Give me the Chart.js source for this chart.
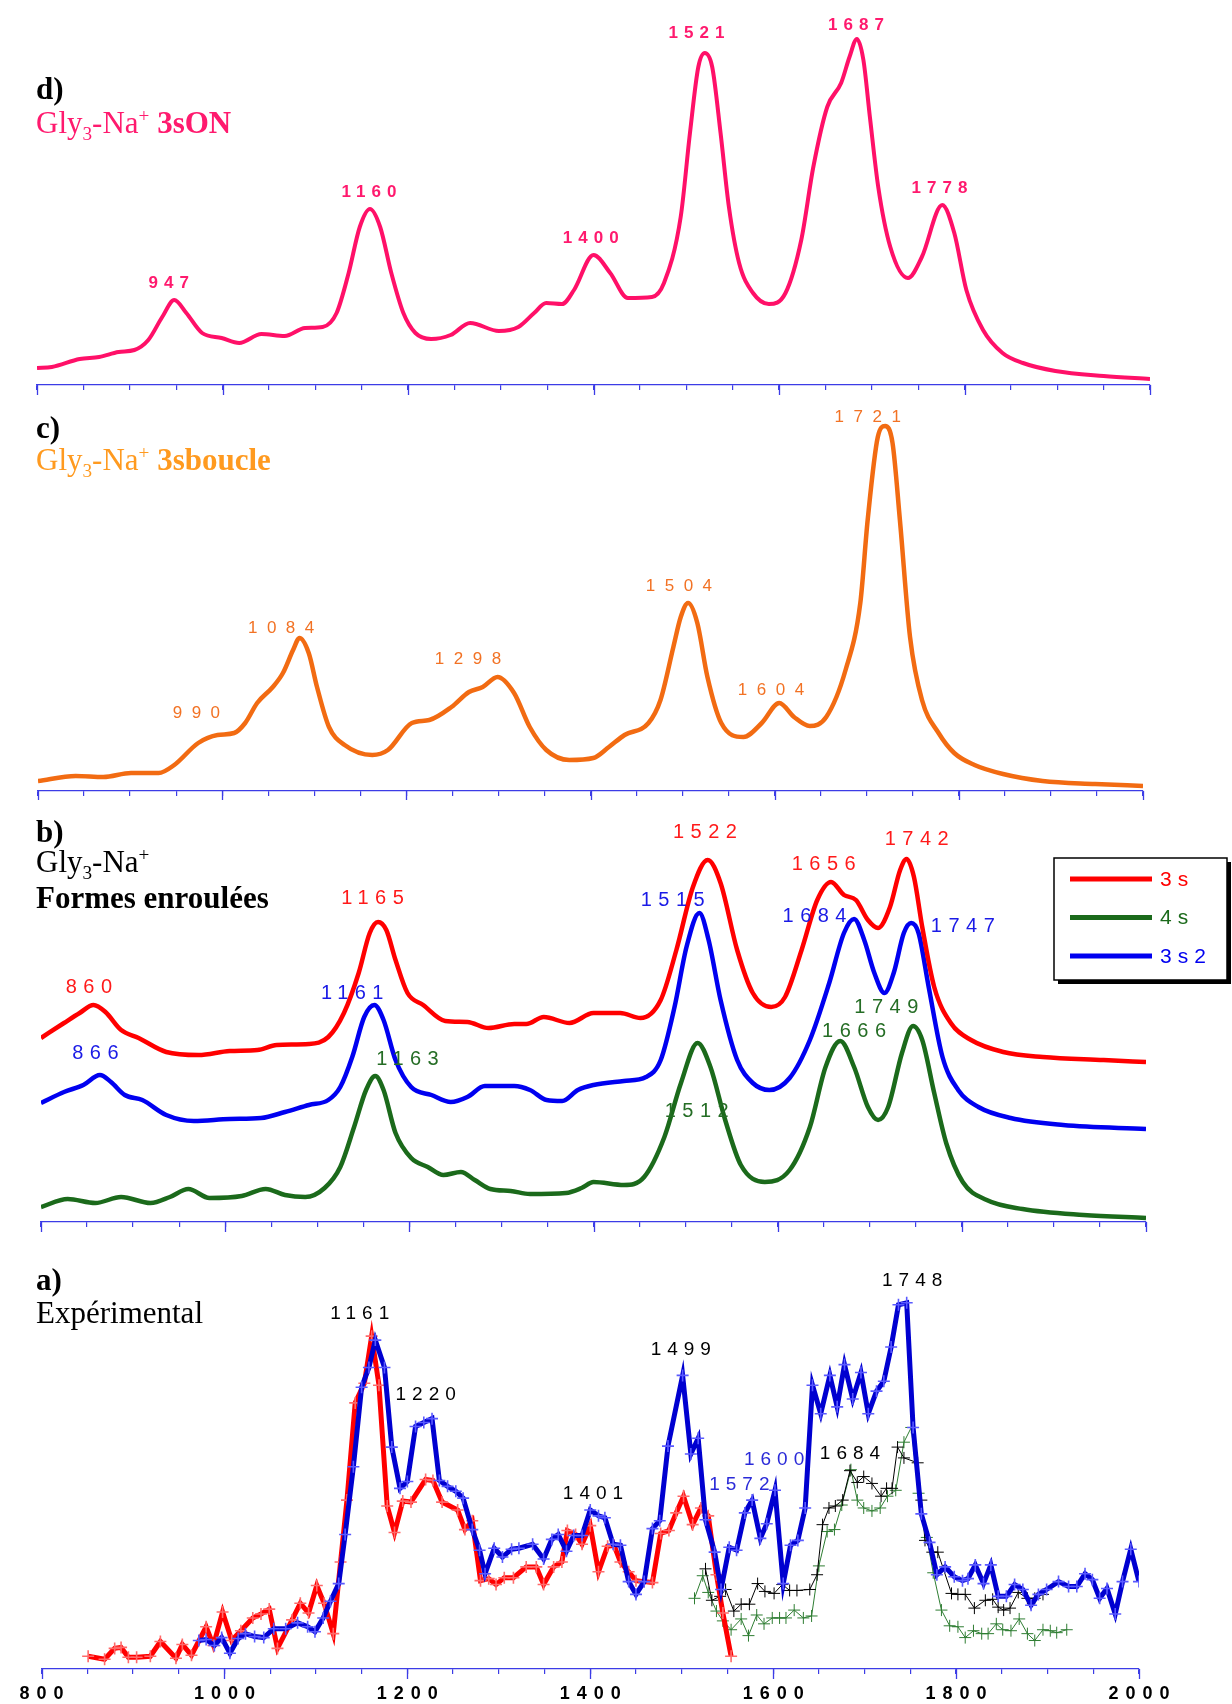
<!DOCTYPE html>
<html>
<head>
<meta charset="utf-8">
<script src="https://cdn.jsdelivr.net/npm/chart.js@4.4.0/dist/chart.umd.min.js"></script>
<style>
  body { margin: 0; background: #fff; }
  #page { position: relative; width: 1232px; height: 1704px; overflow: hidden;
          font-family: "Liberation Serif", "Times New Roman", serif; }
  canvas { position: absolute; left: 0; }
  .t { position: absolute; left: 36px; font-size: 31px; line-height: 1; white-space: nowrap; }
  .t sub, .t sup { font-size: 0.62em; line-height: 0; }
  .b { font-weight: bold; }
</style>
</head>
<body>
<div id="page">
  <canvas id="chart-d" width="1232" height="400" style="top:0px"></canvas>
  <canvas id="chart-c" width="1232" height="400" style="top:400px"></canvas>
  <canvas id="chart-b" width="1232" height="440" style="top:800px"></canvas>
  <canvas id="chart-a" width="1232" height="454" style="top:1250px"></canvas>

  <div class="t b" style="top:73px">d)</div>
  <div class="t" style="top:107px;color:#ff1a6e">Gly<sub>3</sub>-Na<sup>+</sup> <span class="b">3sON</span></div>
  <div class="t b" style="top:412px">c)</div>
  <div class="t" style="top:444px;color:#ff9a1f">Gly<sub>3</sub>-Na<sup>+</sup> <span class="b">3sboucle</span></div>
  <div class="t b" style="top:816px">b)</div>
  <div class="t" style="top:846px">Gly<sub>3</sub>-Na<sup>+</sup></div>
  <div class="t b" style="top:882px">Formes enroulées</div>
  <div class="t b" style="top:1264px">a)</div>
  <div class="t" style="top:1297px">Expérimental</div>
</div>

<script>
// Shared x range (wavenumbers, cm-1)
const xTickLabels = [800, 1000, 1200, 1400, 1600, 1800, 2000];

// d) Gly3-Na+ 3sON  [wavenumber, intensity a.u.]
const spectrum3sON = [[800,17],[816,18],[846,26],[867,28],[888,33],[905,35],[920,45],[935,68],[948,85],[961,72],[978,52],[999,47],[1018,42],[1042,51],[1067,49],[1089,57],[1108,58],[1123,72],[1136,112],[1148,158],[1159,176],[1170,158],[1182,112],[1195,72],[1208,52],[1225,46],[1246,50],[1267,62],[1298,54],[1319,58],[1336,72],[1349,82],[1366,81],[1379,95],[1400,130],[1418,112],[1437,87],[1463,88],[1476,102],[1494,168],[1504,252],[1513,318],[1520,332],[1528,318],[1537,252],[1546,178],[1557,122],[1572,92],[1589,81],[1607,92],[1624,145],[1637,218],[1652,278],[1667,302],[1676,328],[1684,346],[1691,325],[1698,268],[1707,198],[1720,138],[1739,107],[1754,128],[1776,180],[1789,152],[1802,95],[1820,55],[1841,32],[1863,22],[1898,14],[1950,9],[2000,6]];
const peaks3sON = [[942,97,"947"],[1158,188,"1160"],[1397,142,"1400"],[1511,347,"1521"],[1683,355,"1687"],[1773,192,"1778"]];

// c) Gly3-Na+ 3sboucle
const spectrum3sboucle = [[800,10],[841,15],[871,14],[901,18],[931,18],[948,26],[974,48],[995,56],[1013,58],[1025,68],[1038,88],[1055,104],[1066,118],[1077,141],[1084,153],[1094,138],[1103,104],[1116,64],[1133,46],[1163,36],[1180,41],[1206,68],[1225,71],[1249,84],[1268,99],[1283,104],[1299,114],[1317,98],[1334,64],[1352,41],[1377,31],[1403,33],[1420,44],[1437,56],[1463,68],[1476,91],[1490,144],[1498,174],[1506,188],[1516,168],[1527,114],[1542,68],[1566,54],[1586,68],[1605,88],[1621,74],[1638,65],[1656,74],[1677,121],[1693,188],[1701,271],[1712,354],[1720,365],[1728,348],[1736,271],[1747,154],[1760,91],[1778,58],[1795,38],[1817,26],[1848,17],[1891,10],[1948,7],[2000,5]];
const peaks3sboucle = [[972,73,"990"],[1064,158,"1084"],[1267,127,"1298"],[1496,200,"1504"],[1596,96,"1604"],[1701,369,"1721"]];

// b) Formes enroulées: 3s, 4s, 3s2
const spectrum3s = [[800,184],[825,199],[842,209],[857,217],[870,210],[887,192],[906,184],[936,170],[971,167],[1005,171],[1035,172],[1056,177],[1091,178],[1112,185],[1129,209],[1145,249],[1157,289],[1166,300],[1175,292],[1185,262],[1198,229],[1215,217],[1239,201],[1263,200],[1286,194],[1314,198],[1327,198],[1346,205],[1374,199],[1400,209],[1429,209],[1451,204],[1473,222],[1490,272],[1508,335],[1524,362],[1538,339],[1556,272],[1573,229],[1593,215],[1608,225],[1626,272],[1643,322],[1658,340],[1672,327],[1685,322],[1698,302],[1709,294],[1722,315],[1733,352],[1740,363],[1748,345],[1757,295],[1770,235],[1788,199],[1810,182],[1845,170],[1888,165],[1954,162],[2000,160]];
const spectrum4s = [[800,15],[829,23],[859,19],[887,25],[919,19],[940,25],[960,33],[983,24],[1018,26],[1044,33],[1065,27],[1087,25],[1108,34],[1125,55],[1140,95],[1153,132],[1163,146],[1172,132],[1185,89],[1202,64],[1220,55],[1237,47],[1256,50],[1271,42],[1288,33],[1310,31],[1331,28],[1370,29],[1387,34],[1400,40],[1433,37],[1455,45],[1477,85],[1495,139],[1513,179],[1527,155],[1543,102],[1560,57],[1586,40],[1613,52],[1635,95],[1652,155],[1668,181],[1683,155],[1698,115],[1709,102],[1720,115],[1735,169],[1747,196],[1757,182],[1770,129],[1783,79],[1801,40],[1827,22],[1866,13],[1932,7],[2000,4]];
const spectrum3s2 = [[800,119],[825,130],[846,137],[864,147],[876,140],[891,127],[910,122],[936,107],[966,101],[1005,103],[1039,104],[1065,110],[1091,117],[1112,122],[1125,135],[1138,165],[1151,205],[1162,217],[1172,202],[1185,162],[1202,135],[1224,127],[1245,120],[1263,125],[1282,136],[1314,136],[1331,132],[1349,122],[1366,121],[1383,132],[1400,137],[1433,141],[1457,145],[1473,162],[1488,215],[1501,275],[1515,309],[1525,282],[1538,222],[1556,162],[1573,139],[1591,132],[1613,144],[1635,182],[1656,239],[1672,289],[1683,303],[1694,282],[1705,249],[1716,229],[1726,249],[1737,289],[1745,299],[1753,289],[1764,235],[1779,165],[1796,132],[1818,115],[1853,104],[1910,97],[2000,93]];
const peaks3s = [[852,229,"860"],[1160,318,"1165"],[1521,384,"1522"],[1650,352,"1656"],[1751,377,"1742"]];
const peaks3s2 = [[859,163,"866"],[1138,223,"1161"],[1486,316,"1515"],[1640,300,"1684"],[1801,290,"1747"]];
const peaks4s = [[1198,157,"1163"],[1512,105,"1512"],[1683,185,"1666"],[1718,209,"1749"]];

// a) Expérimental
const expRed = [[851,13],[869,10],[880,21],[887,22],[895,12],[904,12],[919,13],[930,28],[947,11],[954,25],[964,14],[980,43],[988,24],[998,58],[1008,29],[1018,39],[1031,52],[1040,56],[1049,61],[1058,21],[1074,50],[1083,67],[1092,57],[1101,85],[1109,67],[1119,36],[1127,109],[1134,172],[1143,271],[1153,291],[1161,339],[1169,289],[1178,166],[1186,139],[1195,171],[1204,170],[1220,193],[1228,192],[1238,170],[1255,162],[1263,142],[1271,151],[1280,90],[1289,92],[1297,86],[1306,93],[1316,93],[1330,104],[1341,104],[1349,86],[1360,104],[1369,109],[1375,141],[1384,137],[1391,127],[1400,146],[1409,99],[1419,125],[1426,126],[1433,109],[1442,99],[1450,90],[1459,89],[1468,88],[1477,138],[1486,141],[1494,159],[1502,176],[1512,147],[1521,164],[1529,156],[1538,96],[1545,57],[1554,13]];
const expBlue = [[972,29],[980,30],[989,24],[997,32],[1006,16],[1015,31],[1023,36],[1033,33],[1043,32],[1054,41],[1067,41],[1080,47],[1091,43],[1099,38],[1108,52],[1116,69],[1125,87],[1132,137],[1141,206],[1150,287],[1158,307],[1165,335],[1175,307],[1183,226],[1192,184],[1200,191],[1209,247],[1218,251],[1227,255],[1235,192],[1244,186],[1253,181],[1261,174],[1271,142],[1279,121],[1285,97],[1295,123],[1304,114],[1314,122],[1322,123],[1337,127],[1349,112],[1358,132],[1365,137],[1374,120],[1382,136],[1391,136],[1400,162],[1409,156],[1416,154],[1425,127],[1433,126],[1442,89],[1450,76],[1459,89],[1468,143],[1476,151],[1485,227],[1501,299],[1510,219],[1518,235],[1526,152],[1536,119],[1543,81],[1552,124],[1560,121],[1569,159],[1577,172],[1586,133],[1593,148],[1602,182],[1611,87],[1619,126],[1627,131],[1635,164],[1643,289],[1652,260],[1662,299],[1670,267],[1678,310],[1687,275],[1696,302],[1704,260],[1713,283],[1721,293],[1729,328],[1737,371],[1746,373],[1753,246],[1762,158],[1771,129],[1779,96],[1788,104],[1798,94],[1807,90],[1813,92],[1821,106],[1830,87],[1838,106],[1846,74],[1855,74],[1864,86],[1873,81],[1882,65],[1890,76],[1899,81],[1912,89],[1923,84],[1932,84],[1941,97],[1949,91],[1957,72],[1965,82],[1974,56],[1982,89],[1991,122],[2000,89]];
const expBlack = [[1526,102],[1533,70],[1542,74],[1548,81],[1557,59],[1565,66],[1574,66],[1583,87],[1591,79],[1601,77],[1610,86],[1618,80],[1626,80],[1640,81],[1648,96],[1654,147],[1661,164],[1668,166],[1676,172],[1684,202],[1692,190],[1699,196],[1708,189],[1718,176],[1724,184],[1730,184],[1736,226],[1743,215],[1758,210],[1762,172],[1766,131],[1774,119],[1780,119],[1795,77],[1802,76],[1810,76],[1820,62],[1832,70],[1840,71],[1846,63],[1852,60],[1859,62],[1868,78],[1878,72],[1886,72],[1895,76]];
const expGreen = [[1514,72],[1523,95],[1529,78],[1538,59],[1545,49],[1554,40],[1565,51],[1573,34],[1582,55],[1590,46],[1599,52],[1607,52],[1614,52],[1623,60],[1633,52],[1642,54],[1650,105],[1659,140],[1667,142],[1675,167],[1685,203],[1692,172],[1699,164],[1708,161],[1717,164],[1725,176],[1734,182],[1743,231],[1751,246],[1759,179],[1768,134],[1775,98],[1784,60],[1793,44],[1802,43],[1810,32],[1819,39],[1828,36],[1835,36],[1844,46],[1851,40],[1860,39],[1869,51],[1878,36],[1886,29],[1895,40],[1903,39],[1910,37],[1921,40]];
const expPeaksBlack = [[1148,356,"1161"],[1220,274,"1220"],[1403,173,"1401"],[1499,320,"1499"],[1684,214,"1684"],[1752,390,"1748"]];
const expPeaksBlue = [[1563,182,"1572"],[1601,208,"1600"]];

const AXIS_BLUE = "#3c3ce6";
const SANS = '"Liberation Sans", Arial, sans-serif';

const toXY = pts => pts.map(([x, y]) => ({ x, y }));

// longer marks at every 200 cm-1
const majorTicks = {
  id: "majorTicks",
  afterDraw(chart) {
    const xs = chart.scales.x, ctx = chart.ctx, y0 = chart.chartArea.bottom;
    ctx.save();
    ctx.strokeStyle = AXIS_BLUE;
    ctx.lineWidth = 1.3;
    xTickLabels.forEach(v => {
      const px = Math.round(xs.getPixelForValue(v)) + 0.5;
      ctx.beginPath();
      ctx.moveTo(px, y0);
      ctx.lineTo(px, y0 + 10);
      ctx.stroke();
    });
    ctx.restore();
  }
};

// spaced bold tick numbers under the bottom axis (panel a)
const tickText = {
  id: "tickText",
  afterDraw(chart) {
    const xs = chart.scales.x, ctx = chart.ctx, y0 = chart.chartArea.bottom + 30;
    ctx.save();
    ctx.font = "bold 18px " + SANS;
    ctx.fillStyle = "#000";
    ctx.textAlign = "center";
    ctx.textBaseline = "alphabetic";
    ctx.letterSpacing = "7px";
    xTickLabels.forEach(v => ctx.fillText(String(v), xs.getPixelForValue(v) + 3.5, y0));
    ctx.restore();
  }
};

function peakLabels(groups, font, spacing) {
  return {
    id: "peakLabels",
    afterDatasetsDraw(chart) {
      const ctx = chart.ctx, xs = chart.scales.x, ys = chart.scales.y;
      ctx.save();
      ctx.font = font;
      ctx.textAlign = "center";
      ctx.textBaseline = "alphabetic";
      ctx.letterSpacing = spacing + "px";
      groups.forEach(([items, color]) => {
        ctx.fillStyle = color;
        items.forEach(([x, y, text]) => {
          ctx.fillText(text, xs.getPixelForValue(x) + spacing / 2, ys.getPixelForValue(y));
        });
      });
      ctx.restore();
    }
  };
}

// framed legend with drop shadow (panel b)
const legendBox = {
  id: "legendBox",
  afterDraw(chart) {
    const ctx = chart.ctx;
    const x = 1054, y = 58, w = 173, h = 122;
    ctx.save();
    ctx.fillStyle = "#000";
    ctx.fillRect(x + 4, y + 4, w, h);
    ctx.fillStyle = "#fff";
    ctx.fillRect(x, y, w, h);
    ctx.strokeStyle = "#000";
    ctx.lineWidth = 1.5;
    ctx.strokeRect(x, y, w, h);
    ctx.font = "21px " + SANS;
    ctx.letterSpacing = "6px";
    ctx.textBaseline = "middle";
    [0, 1, 2].forEach((di, i) => {
      const ds = chart.data.datasets[di];
      const ly = y + 21 + i * 38.5;
      ctx.strokeStyle = ds.borderColor;
      ctx.lineWidth = 5;
      ctx.beginPath();
      ctx.moveTo(x + 16, ly);
      ctx.lineTo(x + 98, ly);
      ctx.stroke();
      ctx.fillStyle = ds.borderColor;
      ctx.fillText(ds.label, x + 106, ly + 1);
    });
    ctx.restore();
  }
};

function panelChart(id, axisY, yMax, padL, padR, datasets, plugins) {
  const canvas = document.getElementById(id);
  const axisH = canvas.height - axisY;
  return new Chart(canvas, {
    type: "line",
    data: { datasets },
    options: {
      responsive: false,
      animation: false,
      devicePixelRatio: 1,
      layout: { padding: { left: padL, right: padR, top: 0, bottom: 0 } },
      plugins: { legend: { display: false }, tooltip: { enabled: false } },
      elements: { point: { radius: 0 } },
      scales: {
        x: {
          type: "linear", min: 800, max: 2000,
          afterFit: s => { s.height = axisH; },
          border: { color: AXIS_BLUE, width: 1.3 },
          grid: { drawOnChartArea: false, tickLength: 5, color: AXIS_BLUE, lineWidth: 1.2 },
          ticks: { display: false, stepSize: 50, autoSkip: false, maxTicksLimit: 30 }
        },
        y: { display: false, min: 0, max: yMax }
      }
    },
    plugins: [majorTicks, ...plugins]
  });
}

const smooth = { cubicInterpolationMode: "monotone", pointRadius: 0, fill: false };

// d)
panelChart("chart-d", 385, 385, 37, 82, [
  { ...smooth, label: "3sON", data: toXY(spectrum3sON), borderColor: "#ff1068", borderWidth: 4 }
], [peakLabels([[peaks3sON, "#ff1a6e"]], "bold 17px " + SANS, 6)]);

// c)
panelChart("chart-c", 391, 391, 38, 89, [
  { ...smooth, label: "3sboucle", data: toXY(spectrum3sboucle), borderColor: "#f26b12", borderWidth: 4.5 }
], [peakLabels([[peaks3sboucle, "#f27224"]], "17px " + SANS, 9.5)]);

// b)
panelChart("chart-b", 422, 422, 41, 86, [
  { ...smooth, label: "3s", data: toXY(spectrum3s), borderColor: "#ff0000", borderWidth: 4.5, order: 1 },
  { ...smooth, label: "4s", data: toXY(spectrum4s), borderColor: "#1b6a1b", borderWidth: 4.5, order: 3 },
  { ...smooth, label: "3s2", data: toXY(spectrum3s2), borderColor: "#0000f0", borderWidth: 4.5, order: 2 }
], [peakLabels([[peaks3s, "#ff1a1a"], [peaks3s2, "#1a1ae6"], [peaks4s, "#256d25"]], "20px " + SANS, 6.5), legendBox]);

// a)
const expLine = (label, pts, color, markColor, width, order) => ({
  label, data: toXY(pts), borderColor: color, borderWidth: width, tension: 0, order,
  pointStyle: "cross", pointRadius: 6, pointBorderColor: markColor,
  pointBorderWidth: width > 2 ? 1.6 : 1, pointBackgroundColor: markColor
});
panelChart("chart-a", 419, 419, 41.5, 93, [
  expLine("3s2 exp", expBlue, "#0000d0", "#5a5aff", 5, 1),
  expLine("3s exp", expRed, "#ff0000", "#ff6a6a", 5, 2),
  expLine("noir", expBlack, "#000000", "#000000", 1, 3),
  expLine("vert", expGreen, "#2e7d32", "#2e7d32", 1, 4)
], [peakLabels([[expPeaksBlack, "#000"], [expPeaksBlue, "#2a2ad8"]], "19px " + SANS, 6), tickText]);
</script>
</body>
</html>
